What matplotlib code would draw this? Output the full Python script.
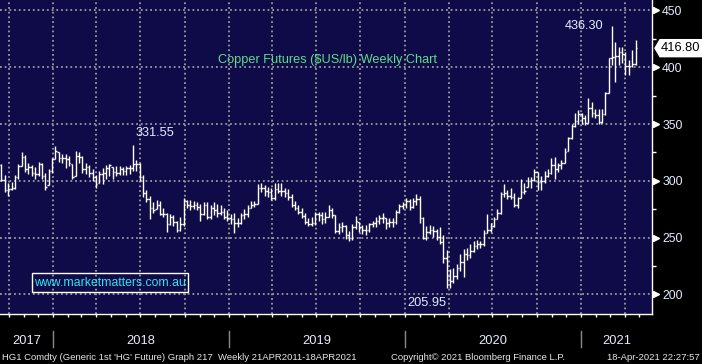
import numpy as np
import pandas as pd
import matplotlib
matplotlib.use("Agg")
import matplotlib.pyplot as plt
import matplotlib.dates as mdates
from matplotlib.patches import Polygon, Rectangle
from matplotlib.ticker import MultipleLocator
from matplotlib.transforms import blended_transform_factory, IdentityTransform

# ============================================================
# DATA - HG1 weekly bars (US cents / lb)
# ============================================================

FIRST_WEEK = "2017-09-16"

opens = [
    314, 301, 292, 293, 294, 303, 313, 321, 310, 312,
    307, 306, 315, 304, 295, 309, 319, 326, 320, 320,
    319, 316, 303, 322, 321, 310, 312, 307, 303, 297,
    306, 307, 311, 314, 308, 307, 310, 309, 311, 311,
    315, 315, 303, 289, 284, 276, 274, 279, 271, 271,
    262, 268, 264, 257, 262, 282, 279, 278, 279, 277,
    271, 279, 268, 276, 274, 272, 273, 268, 267, 266,
    263, 263, 270, 271, 276, 279, 280, 294, 294, 291,
    290, 285, 293, 291, 291, 289, 286, 279, 276, 273,
    269, 264, 262, 263, 271, 270, 266, 268, 274, 270,
    256, 259, 260, 252, 250, 259, 265, 259, 257, 257,
    262, 263, 265, 267, 268, 263, 264, 264, 273, 278,
    280, 282, 277, 282, 284, 267, 250, 255, 257, 256,
    251, 246, 232, 216, 212, 216, 223, 229, 236, 235,
    238, 243, 244, 244, 254, 257, 260, 266, 272, 288,
    289, 287, 286, 279, 285, 290, 291, 300, 301, 308,
    299, 300, 304, 307, 314, 310, 314, 316, 325, 338,
    348, 353, 359, 355, 351, 364, 360, 358, 352, 359,
    377, 408, 409, 410, 413, 412, 401, 401, 403,
]

highs = [
    315, 305, 298, 299, 305, 315, 325, 323, 316, 314,
    312, 317, 316, 307, 310, 320, 331, 325, 324, 324,
    322, 315, 326, 325, 322, 316, 314, 310, 305, 309,
    311, 314, 315, 312, 313, 313, 312, 313, 314, 331.55,
    318, 316, 305, 292, 287, 281, 283, 282, 276, 272,
    271, 270, 265, 268, 285, 283, 283, 282, 281, 280,
    281, 281, 279, 281, 280, 279, 276, 274, 271, 272,
    267, 272, 275, 279, 282, 282, 297, 298, 296, 295,
    294, 298, 298, 298, 294, 293, 288, 282, 279, 276,
    272, 267, 268, 273, 273, 273, 273, 279, 276, 270,
    263, 264, 261, 256, 262, 269, 264, 261, 261, 263,
    265, 268, 270, 272, 267, 267, 267, 274, 280, 281,
    285, 284, 285, 288, 287, 268, 260, 261, 260, 258,
    259, 252, 239, 222, 223, 227, 236, 240, 241, 244,
    247, 248, 247, 257, 271, 263, 268, 275, 290, 297,
    292, 294, 289, 286, 302, 298, 303, 303, 310, 308,
    304, 309, 310, 320, 321, 316, 318, 329, 339, 350,
    360, 362, 360, 358, 373, 369, 363, 363, 363, 378,
    408, 436.30, 422, 418, 418, 413, 406, 415, 424,
]

lows = [
    300, 290, 287, 292, 293, 302, 313, 308, 306, 304,
    302, 304, 302, 292, 296, 307, 319, 317, 316, 311,
    313, 302, 304, 316, 307, 306, 303, 300, 294, 298,
    297, 302, 304, 302, 304, 305, 305, 305, 306, 309,
    309, 300, 286, 281, 266, 272, 275, 270, 268, 255,
    261, 260, 255, 256, 260, 276, 274, 275, 274, 265,
    270, 266, 266, 270, 268, 270, 266, 265, 262, 254,
    259, 262, 266, 268, 276, 277, 280, 290, 287, 286,
    283, 283, 289, 287, 286, 283, 277, 274, 271, 267,
    262, 260, 260, 261, 265, 262, 263, 268, 267, 254,
    253, 255, 249, 247, 248, 258, 255, 253, 252, 255,
    259, 259, 262, 263, 258, 259, 259, 262, 272, 275,
    276, 274, 276, 279, 263, 249, 248, 253, 251, 248,
    244, 228, 205.95, 206, 210, 214, 221, 215, 230, 232,
    237, 240, 241, 243, 254, 255, 259, 266, 271, 286,
    284, 284, 277, 276, 285, 288, 295, 294, 300, 292,
    292, 298, 303, 306, 302, 308, 310, 316, 326, 337,
    347, 350, 350, 349, 351, 356, 355, 350, 351, 358,
    377, 402, 387, 402, 404, 393, 393, 400, 402,
]

closes = [
    301, 292, 293, 294, 303, 313, 321, 310, 312, 307,
    306, 315, 304, 295, 309, 319, 326, 320, 320, 319,
    316, 303, 322, 321, 310, 312, 307, 303, 297, 306,
    307, 311, 314, 308, 307, 310, 309, 311, 311, 315,
    315, 303, 289, 284, 276, 274, 279, 271, 271, 262,
    268, 264, 257, 262, 282, 279, 278, 279, 277, 271,
    279, 268, 276, 274, 272, 273, 268, 267, 266, 263,
    263, 270, 271, 276, 279, 280, 294, 294, 291, 290,
    285, 293, 291, 291, 289, 286, 279, 276, 273, 269,
    264, 262, 263, 271, 270, 266, 268, 274, 270, 256,
    259, 260, 252, 250, 259, 265, 259, 257, 257, 262,
    263, 265, 267, 268, 263, 264, 264, 273, 278, 280,
    282, 277, 282, 284, 267, 250, 255, 257, 256, 251,
    246, 232, 216, 212, 216, 223, 229, 236, 235, 238,
    243, 244, 244, 254, 257, 260, 266, 272, 288, 289,
    287, 286, 279, 285, 290, 291, 300, 301, 308, 299,
    300, 304, 307, 314, 310, 314, 316, 325, 338, 348,
    353, 359, 355, 351, 364, 360, 358, 352, 359, 377,
    408, 409, 410, 413, 412, 401, 401, 403, 416.80,
]

# labelled extremes: (week index, value, text)
peak_2018 = (39, 331.55, "331.55")
peak_2021 = (181, 436.30, "436.30")
low_2020 = (132, 205.95, "205.95")

year_labels = ["2017", "2018", "2019", "2020", "2021"]

# ============================================================
# STYLE
# ============================================================

W, H = 702, 364
NAVY = "#0e0b48"
GRID = "#9a9a9a"
AXTXT = "#e4ecff"
FONT = "Liberation Sans"

plt.rcParams["font.family"] = FONT

fig = plt.figure(figsize=(W / 100, H / 100), dpi=100, facecolor="black")
ax = fig.add_axes([0, 50 / H, 652 / W, 314 / H], facecolor=NAVY)

x_left = mdates.datestr2num("2017-09-13")
x_right = mdates.datestr2num("2021-05-28")
ax.set_xlim(x_left, x_right)
ax.set_ylim(182.8, 459.2)

# ============================================================
# OHLC BARS
# ============================================================

dates = pd.date_range(FIRST_WEEK, periods=len(closes), freq="7D")
x = mdates.date2num(dates)
o = np.clip(opens, lows, highs)

ax.vlines(x, lows, highs, color="white", lw=1.0, zorder=3)
ax.hlines(o, x - 3.2, x, color="white", lw=1.0, zorder=3)
ax.hlines(closes, x, x + 3.2, color="white", lw=1.0, zorder=3)

# ============================================================
# AXES / GRID
# ============================================================

for side in ["left", "top"]:
    ax.spines[side].set_visible(False)
for side in ["right", "bottom"]:
    ax.spines[side].set_color("white")
    ax.spines[side].set_linewidth(1.0)

ax.set_axisbelow(True)
ax.grid(True, which="major", color=GRID, ls=(0, (1, 1.6)), lw=1.3)

ax.xaxis.set_major_locator(mdates.MonthLocator(bymonth=[1, 4, 7, 10]))
ax.xaxis.set_minor_locator(mdates.MonthLocator())
ax.tick_params(axis="x", which="both", length=2.3, width=1, color="white",
               labelbottom=False)

ax.yaxis.tick_right()
ax.yaxis.set_major_locator(MultipleLocator(50))
ax.yaxis.set_minor_locator(MultipleLocator(25))
ax.tick_params(axis="y", which="major", length=0, pad=7.3,
               labelsize=8.8, labelcolor=AXTXT)
ax.tick_params(axis="y", which="minor", length=3, width=1, color="white")

# little pointers on the price axis
yt = [v for v in ax.get_yticks() if 182.8 < v < 459.2]
tri = blended_transform_factory(ax.transAxes, ax.transData)
ax.plot([1.0 + 3.5 / 652] * len(yt), yt, ls="none", marker=">", ms=4.5,
        color="white", transform=tri, clip_on=False)

# year labels + separators under the axis
below = blended_transform_factory(ax.transData, ax.transAxes)
bounds = [x_left] + [mdates.datestr2num(f"{y}-01-01") for y in year_labels[1:]] + [x_right]
for i, lab in enumerate(year_labels):
    ax.text((bounds[i] + bounds[i + 1]) / 2, -26.5 / 314, lab,
            transform=below, ha="center", va="center",
            fontsize=9.3, color=AXTXT, clip_on=False)
for b in bounds[1:-1]:
    ax.plot([b, b], [-17 / 314, -33 / 314], color="#8a8a8a", lw=1.0,
            transform=below, clip_on=False)

# ============================================================
# ANNOTATIONS
# ============================================================

ann_kw = dict(textcoords="offset points", fontsize=9.2, color=AXTXT,
              va="center", zorder=5)
i, v, s = peak_2018
ax.annotate(s, (x[i], v), xytext=(1.5, 8.5), ha="left", **ann_kw)
i, v, s = peak_2021
ax.annotate(s, (x[i], v), xytext=(-6.5, 0), ha="right", **ann_kw)
i, v, s = low_2020
ax.annotate(s, (x[i], v), xytext=(0, -11), ha="right", **ann_kw)

fig.text(328 / W, 1 - 60 / H, "Copper Futures ($US/lb) Weekly Chart",
         ha="center", va="center", fontsize=9.2, color="#5fdc8a")

# watermark box
fig.patches.append(Rectangle((32 / W, 1 - 292 / H), 156 / W, 19 / H,
                             transform=fig.transFigure, fill=False,
                             ec="white", lw=1.0))
fig.text(110 / W, 1 - 282.5 / H, "www.marketmatters.com.au",
         ha="center", va="center", fontsize=8.8, color="#2fe3f0")

# last price flag
fig.canvas.draw()
y_last = ax.transData.transform((x[-1], closes[-1]))[1]
flag = Polygon([(655, y_last), (660, y_last + 8.5), (702, y_last + 8.5),
                (702, y_last - 8.5), (660, y_last - 8.5)],
               closed=True, fc="white", ec="white",
               transform=IdentityTransform())
fig.patches.append(flag)
fig.text(660.5 / W, y_last / H, f"{closes[-1]:.2f}", ha="left", va="center",
         fontsize=9.3, color="black")

# ============================================================
# FOOTER
# ============================================================

foot_kw = dict(fontsize=6.8, color="#e6e6e6", va="center")
fig.text(2 / W, 1 - 357 / H,
         "HG1 Comdty (Generic 1st 'HG' Future) Graph 217", ha="left", **foot_kw)
fig.text(218 / W, 1 - 357 / H, "Weekly 21APR2011-18APR2021", ha="left", **foot_kw)
fig.text(391 / W, 1 - 357 / H, "Copyright\u00a9 2021 Bloomberg Finance L.P.",
         ha="left", **foot_kw)
fig.text(700 / W, 1 - 357 / H, "18-Apr-2021 22:27:57", ha="right", **foot_kw)

fig.savefig("out.png", dpi=100, facecolor="black")
